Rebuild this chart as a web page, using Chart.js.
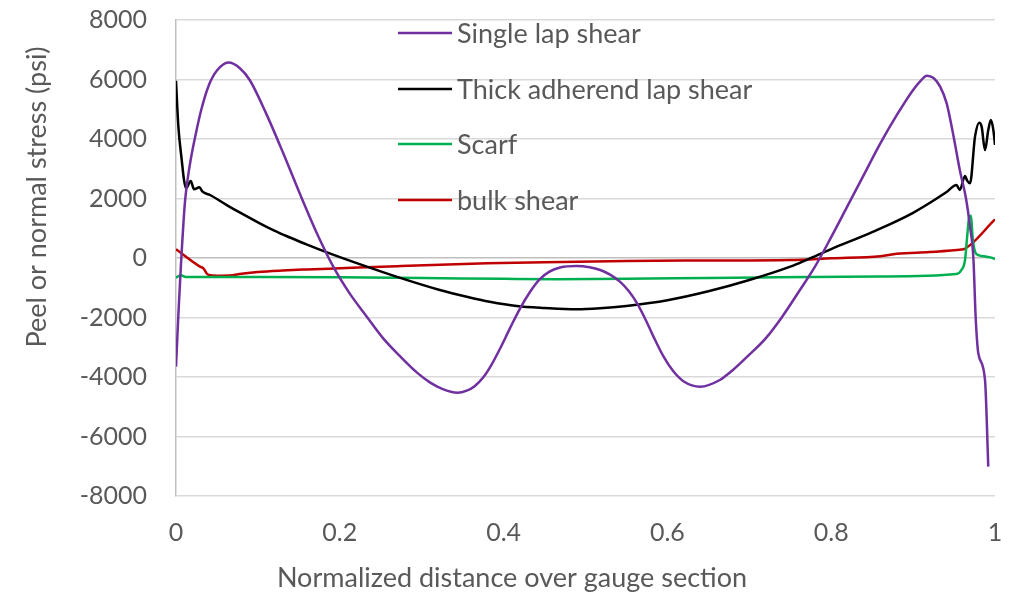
<!DOCTYPE html>
<html>
<head>
<meta charset="utf-8">
<script src="https://cdn.jsdelivr.net/npm/chart.js@4.4.1/dist/chart.umd.min.js"></script>
<style>
  html, body { margin: 0; padding: 0; background: #ffffff; }
  #wrap { width: 1009px; height: 594px; position: relative; }
</style>
</head>
<body>
<div id="wrap"><canvas id="c" width="1009" height="594"></canvas></div>
<script>
// ---------- data ----------
const seriesNames = ["Single lap shear", "Thick adherend lap shear", "Scarf", "bulk shear"];
const seriesColors = ["#7030A0", "#000000", "#00B050", "#C00000"];

const singleLapX = [0, 0.003, 0.006, 0.011, 0.017, 0.024, 0.031, 0.04, 0.05, 0.064, 0.078, 0.09, 0.11, 0.131, 0.151, 0.172, 0.192, 0.212, 0.233, 0.253, 0.2735, 0.295, 0.31, 0.325, 0.3435, 0.355, 0.365, 0.375, 0.385, 0.3956, 0.408, 0.42, 0.432, 0.444, 0.456, 0.469, 0.489, 0.505, 0.518, 0.53, 0.542, 0.553, 0.563, 0.573, 0.583, 0.595, 0.607, 0.62, 0.64, 0.664, 0.68, 0.70, 0.72, 0.74, 0.76, 0.78, 0.80, 0.82, 0.84, 0.86, 0.88, 0.90, 0.91, 0.9166, 0.925, 0.933, 0.941, 0.95, 0.957, 0.9646, 0.9695, 0.9736, 0.9764, 0.9796, 0.9878, 0.9918];
const singleLapY = [-3650, -1850, -250, 1900, 3150, 4150, 5000, 5800, 6300, 6570, 6380, 5983, 4862, 3518, 2174, 830, -291, -1188, -1972, -2700, -3300, -3870, -4180, -4400, -4530, -4460, -4300, -4020, -3600, -3050, -2350, -1700, -1150, -720, -460, -320, -270, -310, -403, -560, -796, -1120, -1524, -2050, -2644, -3300, -3800, -4150, -4325, -4100, -3765, -3250, -2700, -1980, -1150, -300, 700, 1750, 2800, 3850, 4800, 5650, 5980, 6128, 6050, 5759, 5200, 4000, 2958, 2000, 1053, 0, -2000, -3200, -4100, -7014];

const thickX = [0, 0.0029, 0.007, 0.0098, 0.0122, 0.018, 0.022, 0.0285, 0.0324, 0.0415, 0.062, 0.08, 0.10, 0.12, 0.14, 0.16, 0.19, 0.233, 0.269, 0.322, 0.355, 0.383, 0.416, 0.45, 0.489, 0.5177, 0.55, 0.60, 0.65, 0.70, 0.75, 0.77, 0.80, 0.85, 0.90, 0.94, 0.953, 0.957, 0.9634, 0.966, 0.9695, 0.9756, 0.9808, 0.9837, 0.9878, 0.9918, 0.995, 0.998, 1.0];
const thickY = [5960, 4414, 3294, 2622, 2343, 2588, 2310, 2376, 2230, 2118, 1780, 1500, 1200, 920, 680, 450, 130, -291, -627, -1075, -1300, -1468, -1613, -1680, -1725, -1690, -1610, -1420, -1120, -740, -290, -60, 300, 870, 1520, 2200, 2454, 2286, 2756, 2600, 2510, 4078, 4550, 4415, 3630, 4303, 4640, 4300, 3800];

const scarfX = [0, 0.006, 0.012, 0.1, 0.2, 0.302, 0.4, 0.465, 0.55, 0.65, 0.733, 0.8596, 0.953, 0.959, 0.9634, 0.966, 0.9686, 0.9707, 0.9726, 0.9756, 0.9797, 0.9898, 0.998, 1.0];
const scarfY = [-660, -580, -640, -640, -650, -672, -700, -712, -700, -670, -650, -620, -538, -403, -67, 717, 1389, 1420, 717, 213, 100, 45, -10, -40];

const bulkX = [0, 0.0293, 0.0334, 0.0375, 0.04, 0.05, 0.065, 0.08, 0.10, 0.13, 0.16, 0.20, 0.27, 0.38, 0.45, 0.55, 0.65, 0.75, 0.80, 0.86, 0.88, 0.92, 0.957, 0.962, 1.0];
const bulkY = [292, -291, -347, -520, -571, -595, -590, -530, -470, -420, -385, -345, -275, -180, -140, -100, -85, -67, -10, 60, 140, 200, 280, 300, 1300];

const xTicks = [0, 0.2, 0.4, 0.6, 0.8, 1];
const yTicks = [-8000, -6000, -4000, -2000, 0, 2000, 4000, 6000, 8000];
const xTitle = "Normalized distance over gauge section";
const yTitle = "Peel or normal stress (psi)";

// ---------- build datasets ----------
function zip(xs, ys) { return xs.map((x, i) => ({ x: x, y: ys[i] })); }
const allX = [singleLapX, thickX, scarfX, bulkX];
const allY = [singleLapY, thickY, scarfY, bulkY];

const FONT = "Lato, 'Open Sans', sans-serif";
const TICKSIZE = 25;
const TEXTSIZE = 27;
const TXT = "#595959";

const datasets = seriesNames.map((n, i) => ({
  label: n,
  data: zip(allX[i], allY[i]),
  borderColor: seriesColors[i],
  backgroundColor: seriesColors[i],
  borderWidth: 2.5,
  pointRadius: 0,
  showLine: true,
  fill: false,
  cubicInterpolationMode: 'monotone',
  order: i
}));

const customText = {
  id: 'customText',
  afterDraw(chart) {
    const ctx = chart.ctx;
    ctx.save();
    ctx.font = TEXTSIZE + "px " + FONT;
    ctx.fillStyle = TXT;
    // legend
    const ly = [33, 89, 144, 200];
    seriesNames.forEach((n, i) => {
      ctx.strokeStyle = seriesColors[i];
      ctx.lineWidth = 2.5;
      ctx.beginPath();
      ctx.moveTo(398, ly[i]);
      ctx.lineTo(452, ly[i]);
      ctx.stroke();
      ctx.textAlign = 'left';
      ctx.textBaseline = 'middle';
      ctx.fillText(n, 457, ly[i] + 1);
    });
    // x title
    ctx.textAlign = 'center';
    ctx.textBaseline = 'middle';
    ctx.fillText(xTitle, 512, 578);
    // y title
    ctx.translate(37, 197);
    ctx.rotate(-Math.PI / 2);
    ctx.fillText(yTitle, 0, 0);
    ctx.restore();
  }
};

new Chart(document.getElementById('c'), {
  type: 'scatter',
  data: { datasets: datasets },
  options: {
    responsive: false,
    animation: false,
    events: [],
    layout: { padding: { top: 20, right: 14, left: 0, bottom: 0 } },
    plugins: { legend: { display: false }, tooltip: { enabled: false }, title: { display: false } },
    scales: {
      x: {
        type: 'linear',
        min: 0, max: 1,
        afterFit(s) { s.height = 98; s.paddingLeft = 0; s.paddingRight = 0; },
        afterBuildTicks(s) { s.ticks = xTicks.map(v => ({ value: v })); },
        ticks: {
          color: TXT, font: { family: FONT, size: TICKSIZE }, padding: 22, maxRotation: 0,
          callback: (v) => String(Math.round(v * 10) / 10)
        },
        grid: { display: false, drawTicks: false },
        border: { display: false }
      },
      y: {
        type: 'linear',
        min: -8000, max: 8000,
        afterFit(s) { s.width = 176; s.paddingTop = 0; s.paddingBottom = 0; },
        afterBuildTicks(s) { s.ticks = yTicks.map(v => ({ value: v })); },
        ticks: {
          color: TXT, font: { family: FONT, size: TICKSIZE }, padding: 29,
          callback: (v) => String(v)
        },
        grid: {
          drawTicks: false,
          color: (c) => (c.tick && c.tick.value === 0) ? '#BFBFBF' : '#D9D9D9',
          lineWidth: 1.5
        },
        border: { display: true, color: '#BFBFBF', width: 1.5 }
      }
    }
  },
  plugins: [customText]
});
</script>
</body>
</html>
